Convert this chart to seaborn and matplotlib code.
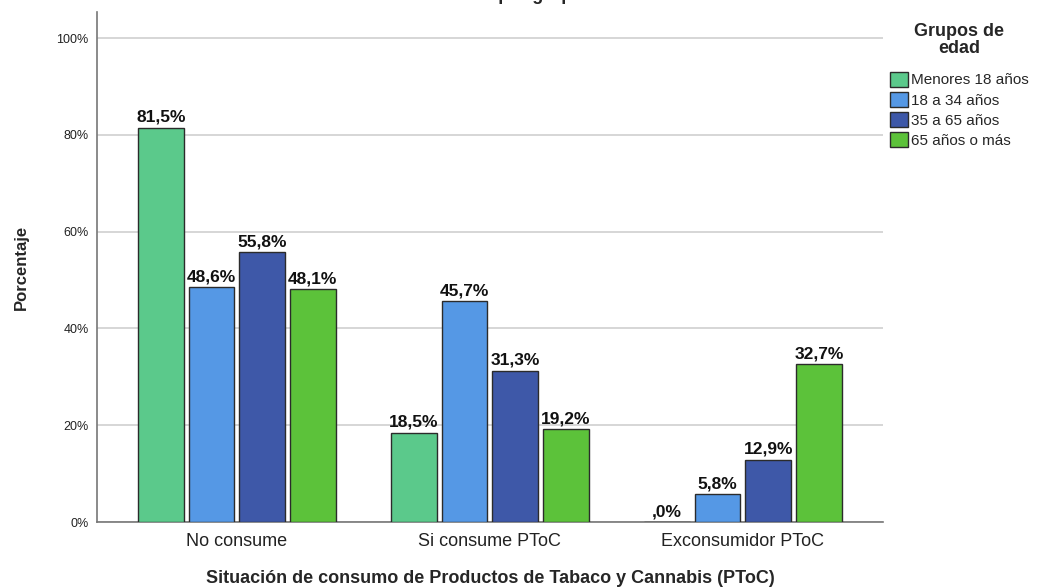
import pandas as pd
import numpy as np
import matplotlib.pyplot as plt
import seaborn as sns

categorias = ['No consume', 'Si consume PToC', 'Exconsumidor PToC']
grupos = ['Menores 18 años', '18 a 34 años', '35 a 65 años', '65 años o más']
menores_18 = [81.5, 18.5, 0.0]
de_18_a_34 = [48.6, 45.7, 5.8]
de_35_a_65 = [55.8, 31.3, 12.9]
mas_65 = [48.1, 19.2, 32.7]
colores = ['#5bc98b', '#5598e5', '#3e58a8', '#5cc23a']

series = [menores_18, de_18_a_34, de_35_a_65, mas_65]
df = pd.DataFrame({
    'Situacion': [c for s in series for c in categorias],
    'Grupo': [g for g, s in zip(grupos, series) for _ in s],
    'Porcentaje': [v for s in series for v in s],
})

sns.set_style("white")
plt.rcParams['font.family'] = ['Liberation Sans', 'DejaVu Sans']

fig = plt.figure(figsize=(10.51, 5.88), dpi=100)
ax = fig.add_axes([0.0923, 0.1122, 0.7477, 0.8674])

sns.barplot(data=df, x='Situacion', y='Porcentaje', hue='Grupo',
            order=categorias, hue_order=grupos, palette=colores,
            width=0.8, gap=0.1, edgecolor='#2b2b2b', linewidth=1,
            saturation=1, ax=ax, zorder=3)

def fmt(v):
    s = f"{v:.1f}%".replace('.', ',')
    return s[1:] if s.startswith('0') else s

for cont, vals in zip(ax.containers, series):
    ax.bar_label(cont, labels=[fmt(v) for v in vals], padding=2,
                 fontsize=12.5, fontweight='bold', color='#111111')

ax.set_ylim(0, 105.4)
ax.set_xlim(-0.553, 2.553)
ax.set_yticks([0, 20, 40, 60, 80, 100])
ax.set_yticklabels(['0%', '20%', '40%', '60%', '80%', '100%'], fontsize=9, color='#222222')
ax.tick_params(axis='x', labelsize=13, length=0, pad=8, colors='#222222')
ax.tick_params(axis='y', length=0, pad=6)
ax.yaxis.grid(True, color='#cfcfcf', linewidth=1.2, zorder=0)
ax.set_axisbelow(True)
for s in ['top', 'right']:
    ax.spines[s].set_visible(False)
for s in ['left', 'bottom']:
    ax.spines[s].set_color('#777777')
    ax.spines[s].set_linewidth(1.2)

ax.set_ylabel('Porcentaje', fontsize=12, fontweight='bold', labelpad=20)
ax.set_xlabel('Situación de consumo de Productos de Tabaco y Cannabis (PToC)',
              fontsize=13, fontweight='bold', labelpad=14)

handles, labels = ax.get_legend_handles_labels()
leg = ax.legend(handles, labels, title='Grupos de\nedad', loc='upper left',
                bbox_to_anchor=(0.995, 1.0), frameon=False, fontsize=11,
                handlelength=1.2, handleheight=1.1, handletextpad=0.2,
                labelspacing=0.3, borderaxespad=0.3)
leg.get_title().set_fontweight('bold')
leg.get_title().set_fontsize(13)
leg.get_title().set_multialignment('center')
leg.get_title().set_linespacing(1.0)
leg._legend_box.align = 'center'
leg._legend_box.sep = 11

# title sits above the canvas in the reference, only descenders visible
fig.text(0.46, 1.0, 'Situación de consumo por grupos de edad', ha='center', va='baseline',
         fontsize=13, fontweight='bold')

fig.savefig('out.png', dpi=100)
